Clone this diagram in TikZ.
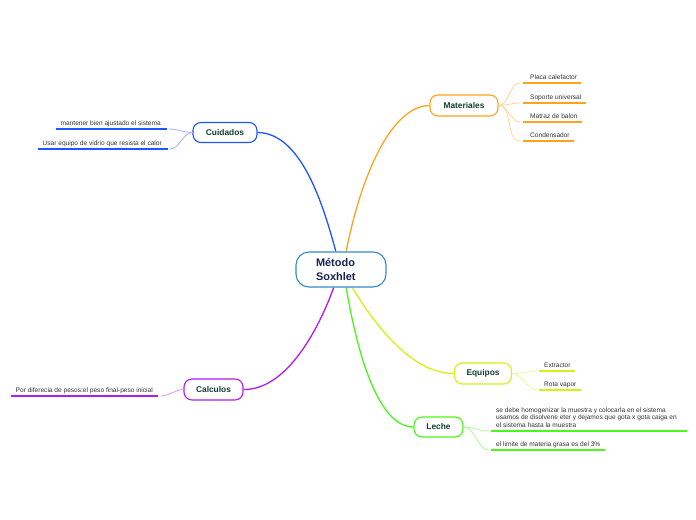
\documentclass[tikz,border=0pt]{standalone}
\usepackage{fontspec}
\setmainfont{Liberation Sans}
\usetikzlibrary{backgrounds}
\definecolor{cOr}{HTML}{FFA31F}
\definecolor{cBl}{HTML}{1E56FF}
\definecolor{cPu}{HTML}{B01CF0}
\definecolor{cYe}{HTML}{D2F214}
\definecolor{cGr}{HTML}{4CF51A}
\definecolor{cCe}{HTML}{3388CC}
\definecolor{cTx}{HTML}{0E4030}
\definecolor{cCt}{HTML}{152350}
\definecolor{cLf}{HTML}{333333}
\begin{document}
\begin{tikzpicture}[x=1bp,y=-1bp,
  topic/.style={draw=#1, line width=1.1bp, fill=white, rounded corners=8bp, text=cTx,
    font=\fontsize{8.4}{10}\selectfont\bfseries, inner sep=0pt},
  central/.style={draw=cCe, line width=1.1bp, fill=white, rounded corners=13bp, text=cCt,
    font=\fontsize{11}{13.5}\selectfont\bfseries, inner sep=0pt, minimum width=90bp,
    minimum height=35bp, text width=50bp, align=left},
  leaf/.style={inner xsep=0pt, inner ysep=2bp, text=cLf, font=\fontsize{6.6}{7.6}\selectfont,
    text height=4.7bp, text depth=1.3bp, align=left},
  branch/.style={draw=#1, line width=1.3bp},
  twig/.style={draw=#1!45!white, line width=0.8bp},
  uline/.style={draw=#1, line width=1.8bp}
]
\useasboundingbox (0,0) rectangle (696,520);

% main topics
\node[central] (c) at (341,269.5) {Método\\Soxhlet};
\node[topic=cOr, minimum width=68bp, minimum height=21bp] (mat) at (464,105.5) {Materiales};
\node[topic=cBl, minimum width=64bp, minimum height=20bp] (cui) at (225,132.5) {Cuidados};
\node[topic=cPu, minimum width=59bp, minimum height=21bp] (cal) at (213.5,389.5) {Calculos};
\node[topic=cYe, minimum width=57bp, minimum height=21bp] (equ) at (483,373.5) {Equipos};
\node[topic=cGr, minimum width=49bp, minimum height=20bp] (lec) at (438.5,427) {Leche};

% main connectors behind the nodes
\begin{scope}[on background layer]
\fill[white] (0,0) rectangle (696,520);
\draw[branch=cBl] (cui.east) .. controls (300,133) and (322,200) .. (c.106);
\draw[branch=cOr] (mat.west) .. controls (390,106) and (360,180) .. (c.74);
\draw[branch=cPu] (cal.east) .. controls (290,390) and (322,320) .. (c.248);
\draw[branch=cYe] (equ.west) .. controls (410,374) and (372,320) .. (c.302);
\draw[branch=cGr] (lec.west) .. controls (375,427) and (355,340) .. (c.286);
\end{scope}

% Materiales leaves
\node[leaf, anchor=south west] (m1) at (530,83) {Placa calefactor};
\node[leaf, anchor=south west] (m2) at (530,103) {Soporte universal};
\node[leaf, anchor=south west] (m3) at (530,122) {Matraz de balon};
\node[leaf, anchor=south west] (m4) at (530,141) {Condensador};
\foreach \n in {m1,m2,m3,m4}{
  \draw[twig=cOr] (mat.east) to[out=0,in=180,looseness=0.9] ([xshift=-10bp]\n.south west);
  \draw[uline=cOr] ([xshift=-7bp]\n.south west) -- ([xshift=4bp]\n.south east);
}

% Cuidados leaves
\node[leaf, anchor=south east] (u1) at (161,129) {mantener bien ajustado el sistema};
\node[leaf, anchor=south east] (u2) at (162,149) {Usar equipo de vidrio que resista el calor};
\foreach \n in {u1,u2}{
  \draw[twig=cBl] (cui.west) to[out=180,in=0,looseness=0.9] ([xshift=8bp]\n.south east);
  \draw[uline=cBl] ([xshift=-4bp]\n.south west) -- ([xshift=6bp]\n.south east);
}

% Calculos leaf
\node[leaf, anchor=south east] (k1) at (153,396) {Por diferecia de pesos:el peso final-peso inicial};
\draw[twig=cPu] (cal.west) to[out=180,in=0,looseness=0.9] ([xshift=8bp]k1.south east);
\draw[uline=cPu] ([xshift=-5bp]k1.south west) -- ([xshift=5bp]k1.south east);

% Equipos leaves
\node[leaf, anchor=south west] (e1) at (544,371) {Extractor};
\node[leaf, anchor=south west] (e2) at (544,390) {Rota vapor};
\foreach \n in {e1,e2}{
  \draw[twig=cYe] (equ.east) to[out=0,in=180,looseness=0.9] ([xshift=-7bp]\n.south west);
  \draw[uline=cYe] ([xshift=-5bp]\n.south west) -- ([xshift=4bp]\n.south east);
}

% Leche leaves
\node[leaf, anchor=south west] (l1) at (496,431) {se debe homogenizar la muestra y colocarla en el sistema\\usamos de disolvene eter y dejamos que gota x gota caiga en\\el sistema hasta la muestra};
\node[leaf, anchor=south west] (l2) at (496,450) {el limite de materia grasa es del 3\%};
\coordinate (l1end) at (687,431);
\draw[twig=cGr] (lec.east) to[out=0,in=180,looseness=0.9] ([xshift=-7bp]l1.south west);
\draw[twig=cGr] (lec.east) to[out=0,in=180,looseness=0.9] ([xshift=-7bp]l2.south west);
\draw[uline=cGr] ([xshift=-5bp]l1.south west) -- (l1end);
\draw[uline=cGr] ([xshift=-5bp]l2.south west) -- ([xshift=4bp]l2.south east);
\end{tikzpicture}
\end{document}
